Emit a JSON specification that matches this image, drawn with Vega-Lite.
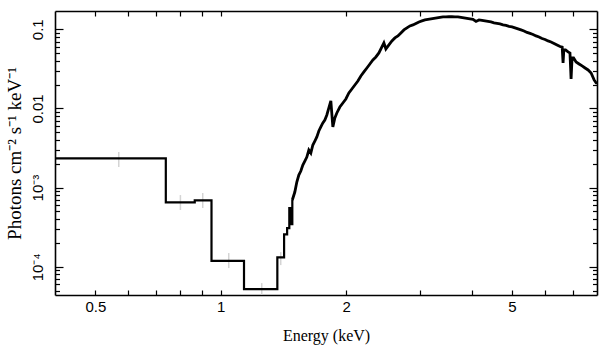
{
  "$schema": "https://vega.github.io/schema/vega-lite/v6.json",
  "width": 542,
  "height": 284,
  "autosize": "none",
  "padding": {"left": 55, "top": 11, "right": 12, "bottom": 62},
  "config": {
    "view": {"stroke": null},
    "axis": {
      "grid": false,
      "domainColor": "black",
      "domainWidth": 1.6,
      "tickColor": "black",
      "tickWidth": 1.2,
      "labelFont": "Liberation Sans",
      "labelFontSize": 15,
      "labelColor": "black",
      "titleFont": "Liberation Serif",
      "titleFontSize": 16,
      "titleFontWeight": "normal",
      "titleColor": "black"
    }
  },
  "datasets": {
    "steps": [
      {"energy": 0.4, "flux": 0.002344},
      {"energy": 0.738, "flux": 0.000652},
      {"energy": 0.866, "flux": 0.00069},
      {"energy": 0.95, "flux": 0.000119},
      {"energy": 1.137, "flux": 0.0000522},
      {"energy": 1.367, "flux": 0.0001315},
      {"energy": 1.419, "flux": 0.0002565},
      {"energy": 1.443, "flux": 0.0003084},
      {"energy": 1.4605, "flux": 0.0005518},
      {"energy": 1.4727, "flux": 0.0003464},
      {"energy": 1.485, "flux": 0.0006966}
    ],
    "curve": [
      {"energy": 1.485, "flux": 0.0006966},
      {"energy": 1.5057, "flux": 0.000879},
      {"energy": 1.5224, "flux": 0.001176},
      {"energy": 1.5393, "flux": 0.001441},
      {"energy": 1.5565, "flux": 0.00162},
      {"energy": 1.5738, "flux": 0.001929},
      {"energy": 1.5913, "flux": 0.002166},
      {"energy": 1.609, "flux": 0.002433},
      {"energy": 1.6269, "flux": 0.002983},
      {"energy": 1.645, "flux": 0.002734},
      {"energy": 1.6633, "flux": 0.00345},
      {"energy": 1.6818, "flux": 0.003877},
      {"energy": 1.7005, "flux": 0.004356},
      {"energy": 1.7194, "flux": 0.005187},
      {"energy": 1.7385, "flux": 0.005826},
      {"energy": 1.7579, "flux": 0.006545},
      {"energy": 1.7774, "flux": 0.007142},
      {"energy": 1.7972, "flux": 0.00826},
      {"energy": 1.8172, "flux": 0.01013},
      {"energy": 1.8374, "flux": 0.01242},
      {"energy": 1.8579, "flux": 0.005826},
      {"energy": 1.8785, "flux": 0.007567},
      {"energy": 1.8994, "flux": 0.008756},
      {"energy": 1.9312, "flux": 0.01042},
      {"energy": 1.9636, "flux": 0.01171},
      {"energy": 1.9964, "flux": 0.01316},
      {"energy": 2.0298, "flux": 0.01567},
      {"energy": 2.0638, "flux": 0.0176},
      {"energy": 2.0984, "flux": 0.01978},
      {"energy": 2.1335, "flux": 0.02222},
      {"energy": 2.1692, "flux": 0.0257},
      {"energy": 2.2055, "flux": 0.02887},
      {"energy": 2.2424, "flux": 0.03243},
      {"energy": 2.2799, "flux": 0.03643},
      {"energy": 2.3181, "flux": 0.04093},
      {"energy": 2.3569, "flux": 0.04467},
      {"energy": 2.3963, "flux": 0.05017},
      {"energy": 2.4364, "flux": 0.05976},
      {"energy": 2.4635, "flux": 0.06713},
      {"energy": 2.4909, "flux": 0.05638},
      {"energy": 2.5326, "flux": 0.06333},
      {"energy": 2.575, "flux": 0.07116},
      {"energy": 2.6181, "flux": 0.07764},
      {"energy": 2.6619, "flux": 0.08229},
      {"energy": 2.7065, "flux": 0.08981},
      {"energy": 2.7518, "flux": 0.09799},
      {"energy": 2.7978, "flux": 0.1039},
      {"energy": 2.8447, "flux": 0.1101},
      {"energy": 2.8923, "flux": 0.1134},
      {"energy": 2.9407, "flux": 0.1184},
      {"energy": 2.9899, "flux": 0.1237},
      {"energy": 3.0399, "flux": 0.1273},
      {"energy": 3.0908, "flux": 0.1311},
      {"energy": 3.1425, "flux": 0.133},
      {"energy": 3.1951, "flux": 0.135},
      {"energy": 3.2486, "flux": 0.1369},
      {"energy": 3.303, "flux": 0.1389},
      {"energy": 3.3582, "flux": 0.141},
      {"energy": 3.4144, "flux": 0.1431},
      {"energy": 3.4716, "flux": 0.1431},
      {"energy": 3.5297, "flux": 0.1439},
      {"energy": 3.5888, "flux": 0.1439},
      {"energy": 3.6488, "flux": 0.1431},
      {"energy": 3.7099, "flux": 0.1431},
      {"energy": 3.772, "flux": 0.141},
      {"energy": 3.8351, "flux": 0.1389},
      {"energy": 3.8993, "flux": 0.1369},
      {"energy": 3.9646, "flux": 0.135},
      {"energy": 4.0309, "flux": 0.133},
      {"energy": 4.0984, "flux": 0.1255},
      {"energy": 4.167, "flux": 0.1311},
      {"energy": 4.2367, "flux": 0.1292},
      {"energy": 4.3076, "flux": 0.1273},
      {"energy": 4.3797, "flux": 0.1255},
      {"energy": 4.453, "flux": 0.1237},
      {"energy": 4.5275, "flux": 0.1202},
      {"energy": 4.6033, "flux": 0.1184},
      {"energy": 4.6803, "flux": 0.1167},
      {"energy": 4.7586, "flux": 0.1134},
      {"energy": 4.8383, "flux": 0.1117},
      {"energy": 4.9192, "flux": 0.1085},
      {"energy": 5.0015, "flux": 0.1069},
      {"energy": 5.0852, "flux": 0.1039},
      {"energy": 5.1703, "flux": 0.1009},
      {"energy": 5.2569, "flux": 0.098},
      {"energy": 5.3448, "flux": 0.0952},
      {"energy": 5.4343, "flux": 0.0911},
      {"energy": 5.5252, "flux": 0.0885},
      {"energy": 5.6177, "flux": 0.086},
      {"energy": 5.7117, "flux": 0.0823},
      {"energy": 5.8073, "flux": 0.0799},
      {"energy": 5.9045, "flux": 0.0765},
      {"energy": 6.0033, "flux": 0.0743},
      {"energy": 6.1038, "flux": 0.0712},
      {"energy": 6.2059, "flux": 0.0691},
      {"energy": 6.3098, "flux": 0.0662},
      {"energy": 6.4154, "flux": 0.0633},
      {"energy": 6.5227, "flux": 0.0606},
      {"energy": 6.6, "flux": 0.0595},
      {"energy": 6.6319, "flux": 0.0375},
      {"energy": 6.66, "flux": 0.0547},
      {"energy": 6.7243, "flux": 0.0547},
      {"energy": 6.818, "flux": 0.0517},
      {"energy": 6.89, "flux": 0.05},
      {"energy": 6.9322, "flux": 0.02355},
      {"energy": 6.97, "flux": 0.0434},
      {"energy": 7.0289, "flux": 0.0434},
      {"energy": 7.127, "flux": 0.0386},
      {"energy": 7.2463, "flux": 0.0364},
      {"energy": 7.3676, "flux": 0.0344},
      {"energy": 7.4909, "flux": 0.0324},
      {"energy": 7.6163, "flux": 0.0306},
      {"energy": 7.7438, "flux": 0.028},
      {"energy": 7.8734, "flux": 0.0229},
      {"energy": 7.961, "flux": 0.021},
      {"energy": 8.0, "flux": 0.021}
    ],
    "err": [
      {"energy": 0.569, "lo": 0.00182, "hi": 0.00282},
      {"energy": 0.8, "lo": 0.000521, "hi": 0.000805},
      {"energy": 0.905, "lo": 0.000552, "hi": 0.000854},
      {"energy": 1.045, "lo": 0.0000963, "hi": 0.000149},
      {"energy": 1.254, "lo": 0.0000445, "hi": 0.0000622},
      {"energy": 1.393, "lo": 0.000105, "hi": 0.000153}
    ]
  },
  "layer": [
    {
      "data": {"name": "err"},
      "mark": {"type": "rule", "color": "#d4d4d4", "strokeWidth": 1.5, "clip": true},
      "encoding": {
        "x": {
          "field": "energy", "type": "quantitative",
          "scale": {"type": "log", "domain": [0.4, 8], "nice": false},
          "axis": {
            "orient": "bottom",
            "values": [0.5, 0.6, 0.7, 0.8, 0.9, 1, 2, 3, 4, 5, 6, 7],
            "labelExpr": "datum.value == 0.5 ? '0.5' : datum.value == 1 ? '1' : datum.value == 2 ? '2' : datum.value == 5 ? '5' : ''",
            "tickSize": -5,
            "labelPadding": 9,
            "labelFlush": false,
            "labelOverlap": false,
            "title": "Energy (keV)",
            "titlePadding": 13
          }
        },
        "y": {
          "field": "lo", "type": "quantitative",
          "scale": {"type": "log", "domain": [0.000044, 0.17], "nice": false},
          "axis": {
            "orient": "left",
            "values": [0.0001, 0.001, 0.01, 0.1],
            "labelExpr": "datum.value > 0.05 ? '0.1' : datum.value > 0.005 ? '0.01' : datum.value > 0.0005 ? '10⁻³' : '10⁻⁴'",
            "labelAngle": -90,
            "labelAlign": "center",
            "labelBaseline": "bottom",
            "tickSize": -8,
            "labelPadding": 18,
            "labelFlush": false,
            "labelOverlap": false,
            "title": "Photons cm⁻² s⁻¹ keV⁻¹",
            "titleFontSize": 19,
            "titlePadding": 6
          }
        },
        "y2": {"field": "hi"}
      }
    },
    {
      "data": {"name": "steps"},
      "mark": {"type": "line", "interpolate": "step-after", "color": "black", "strokeWidth": 2.2, "clip": true},
      "encoding": {
        "x": {
          "field": "energy", "type": "quantitative",
          "scale": {"type": "log", "domain": [0.4, 8], "nice": false},
          "axis": {
            "orient": "top",
            "values": [0.5, 0.6, 0.7, 0.8, 0.9, 1, 2, 3, 4, 5, 6, 7],
            "labels": false,
            "tickSize": -5,
            "title": null
          }
        },
        "y": {
          "field": "flux", "type": "quantitative",
          "scale": {"type": "log", "domain": [0.000044, 0.17], "nice": false},
          "axis": {
            "orient": "right",
            "values": [0.0001, 0.001, 0.01, 0.1],
            "labels": false,
            "tickSize": -8,
            "title": null
          }
        }
      }
    },
    {
      "data": {"name": "curve"},
      "mark": {"type": "line", "color": "black", "strokeWidth": 2.8, "strokeJoin": "miter", "clip": true},
      "encoding": {
        "x": {"field": "energy", "type": "quantitative", "scale": {"type": "log", "domain": [0.4, 8], "nice": false}, "axis": null},
        "y": {
          "field": "flux", "type": "quantitative",
          "scale": {"type": "log", "domain": [0.000044, 0.17], "nice": false},
          "axis": {
            "orient": "left",
            "values": [0.00005, 0.00006, 0.00007, 0.00008, 0.00009, 0.0002, 0.0003, 0.0004, 0.0005, 0.0006, 0.0007, 0.0008, 0.0009, 0.002, 0.003, 0.004, 0.005, 0.006, 0.007, 0.008, 0.009, 0.02, 0.03, 0.04, 0.05, 0.06, 0.07, 0.08, 0.09],
            "labels": false,
            "domain": false,
            "tickSize": -4.5,
            "title": null
          }
        }
      }
    },
    {
      "data": {"name": "steps"},
      "mark": {"type": "line", "interpolate": "step-after", "strokeOpacity": 0, "clip": true},
      "encoding": {
        "x": {"field": "energy", "type": "quantitative", "scale": {"type": "log", "domain": [0.4, 8], "nice": false}, "axis": null},
        "y": {
          "field": "flux", "type": "quantitative",
          "scale": {"type": "log", "domain": [0.000044, 0.17], "nice": false},
          "axis": {
            "orient": "right",
            "values": [0.00005, 0.00006, 0.00007, 0.00008, 0.00009, 0.0002, 0.0003, 0.0004, 0.0005, 0.0006, 0.0007, 0.0008, 0.0009, 0.002, 0.003, 0.004, 0.005, 0.006, 0.007, 0.008, 0.009, 0.02, 0.03, 0.04, 0.05, 0.06, 0.07, 0.08, 0.09],
            "labels": false,
            "domain": false,
            "tickSize": -4.5,
            "title": null
          }
        }
      }
    }
  ],
  "resolve": {"axis": {"x": "independent", "y": "independent"}}
}
